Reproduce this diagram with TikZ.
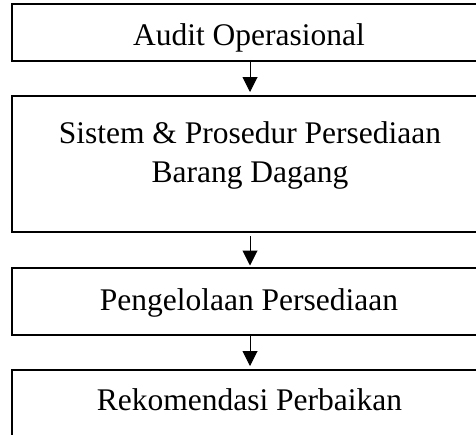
\documentclass[tikz,border=0pt]{standalone}
\usepackage{fontspec}
\setmainfont{Liberation Serif}
\usetikzlibrary{arrows.meta}
\begin{document}
\begin{tikzpicture}[x=1pt,y=-1pt,
  boxnode/.style={draw=black,line width=2pt,minimum width=476pt,inner sep=0pt,fill=none},
  txt/.style={inner sep=0pt,font=\fontsize{31.5}{39}\selectfont,align=center},
  flow/.style={draw=black,line width=1pt,-{Triangle[width=15pt,length=15pt]}}]
\useasboundingbox (0,0) rectangle (476,434);
\clip (0,0) rectangle (476,434);
\node[boxnode,minimum height=57pt] (b1) at (250,32.5) {};
\node[boxnode,minimum height=136pt] (b2) at (250,164) {};
\node[boxnode,minimum height=67pt] (b3) at (250,301.5) {};
\node[boxnode,minimum height=72pt] (b4) at (250,406) {};
\node[txt,anchor=base] (t1) at (249,45) {Audit Operasional};
\node[txt,anchor=base] (t2) at (250,182) {Sistem \& Prosedur Persediaan\\Barang Dagang};
\node[txt,anchor=base] (t3) at (249,310) {Pengelolaan Persediaan};
\node[txt,anchor=base] (t4) at (249.5,410) {Rekomendasi Perbaikan};
\draw[flow,shorten >=3pt] (b1.south) -- (b2.north);
\draw[flow,shorten <=3pt,shorten >=1.5pt] (b2.south) -- (b3.north);
\draw[flow,shorten >=3pt] (b3.south) -- (b4.north);
\end{tikzpicture}
\end{document}
